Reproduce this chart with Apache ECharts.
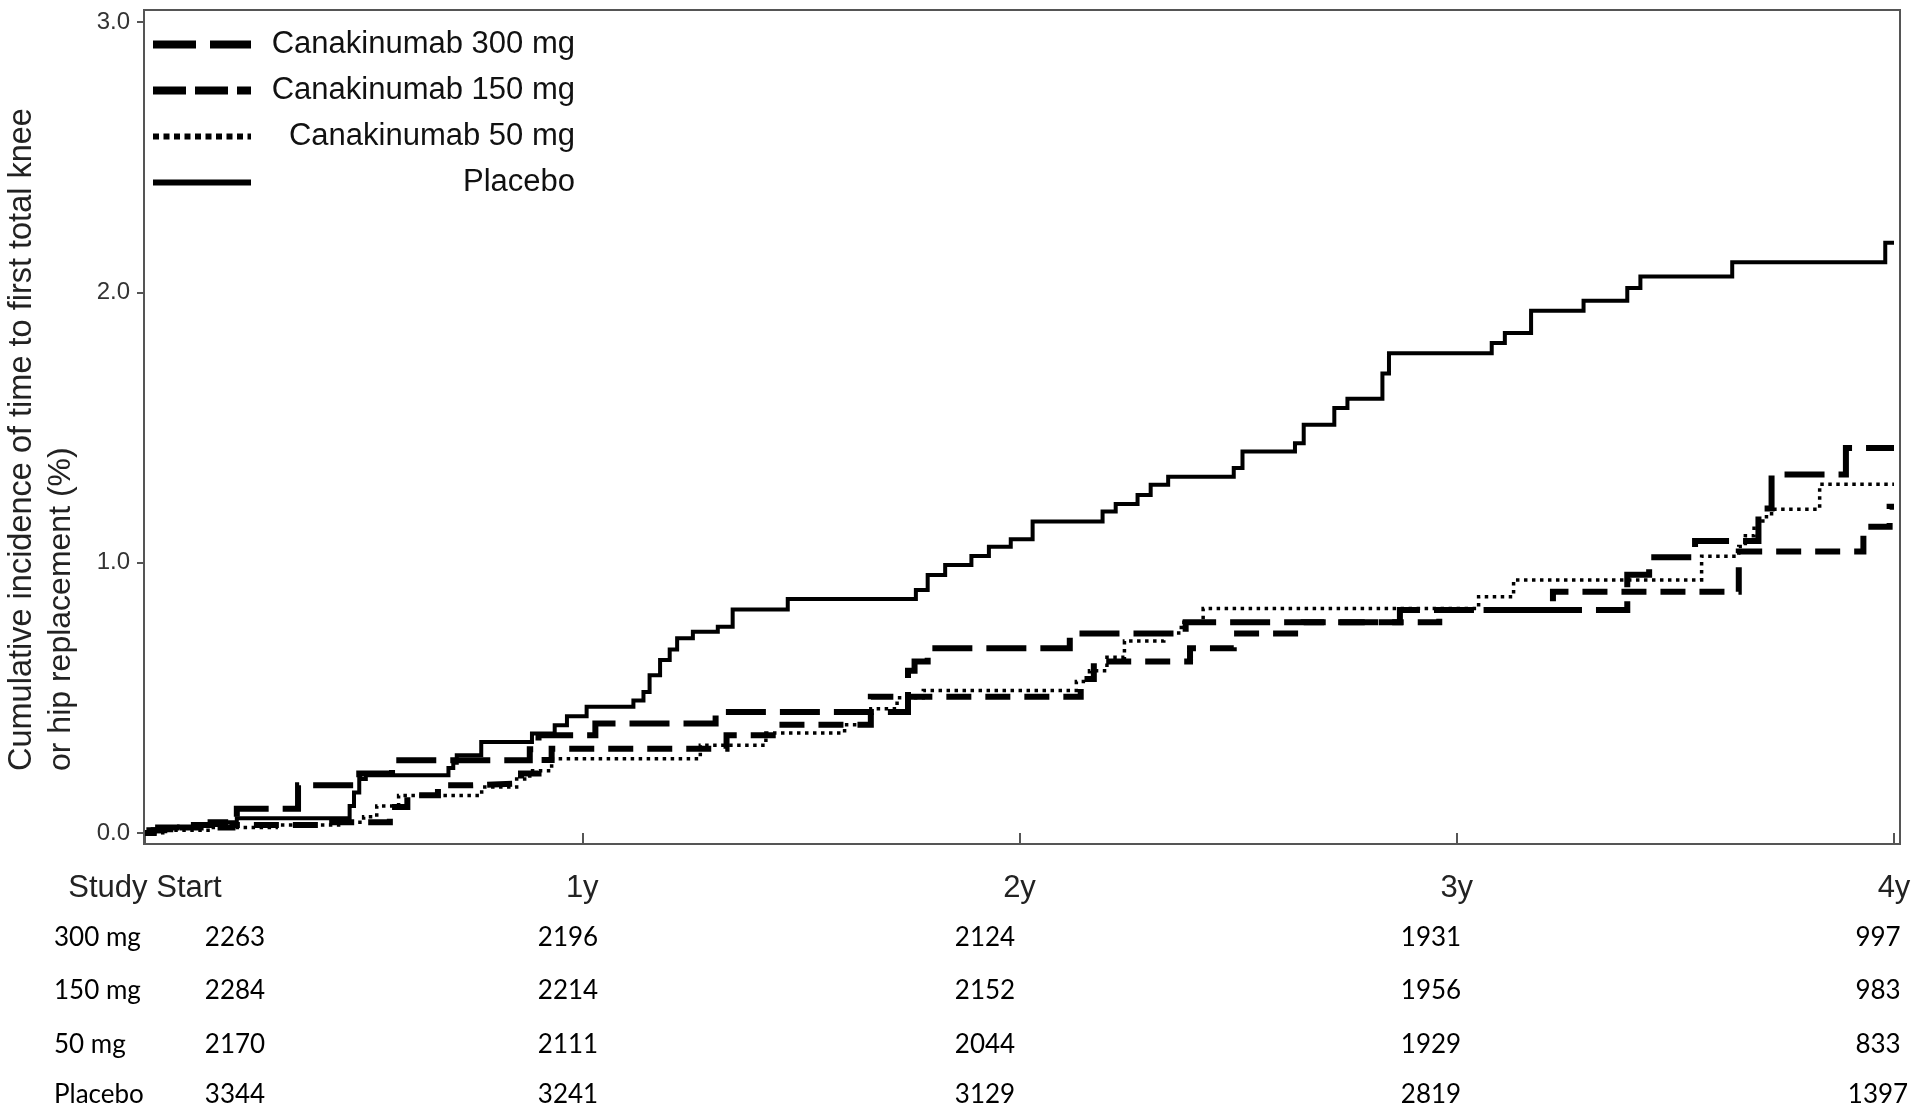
<!DOCTYPE html>
<html>
<head>
<meta charset="utf-8">
<script src="https://cdn.jsdelivr.net/npm/echarts@6/dist/echarts.min.js"></script>
<style>
  html, body { margin: 0; padding: 0; background: #fff; }
  #main { width: 1920px; height: 1110px; }
</style>
</head>
<body>
<div id="main"></div>
<script>
// x labels at 0..4 years
const timeTicks = ["Study Start", "1y", "2y", "3y", "4y"];
const seriesNames = ["Canakinumab 300 mg", "Canakinumab 150 mg", "Canakinumab 50 mg", "Placebo"];

// [years, cumulative incidence %] - step points
const cana300 = [
  [0, 0], [0.01, 0.01], [0.03, 0.02], [0.1, 0.03], [0.15, 0.04], [0.21, 0.09], [0.35, 0.177],
  [0.49, 0.22], [0.565, 0.269], [0.88, 0.31], [0.9, 0.362], [1.03, 0.405], [1.305, 0.448],
  [1.745, 0.6], [1.76, 0.634], [1.79, 0.683], [2.115, 0.738], [2.38, 0.78], [2.87, 0.825],
  [3.39, 0.955], [3.44, 1.02], [3.545, 1.08], [3.69, 1.2], [3.72, 1.326], [3.89, 1.424], [4.0, 1.424]
];
const cana150 = [
  [0, 0], [0.02, 0.01], [0.08, 0.02], [0.2, 0.03], [0.4, 0.04], [0.56, 0.096], [0.6, 0.14],
  [0.67, 0.177], [0.75, 0.183], [0.86, 0.22], [0.9, 0.27], [0.93, 0.312], [1.33, 0.362],
  [1.45, 0.4], [1.66, 0.504], [2.14, 0.57], [2.17, 0.634], [2.39, 0.683], [2.49, 0.738],
  [2.65, 0.78], [2.96, 0.825], [3.22, 0.892], [3.645, 1.041], [3.93, 1.133], [3.99, 1.207], [4.0, 1.207]
];
const cana50 = [
  [0, 0], [0.05, 0.01], [0.15, 0.02], [0.3, 0.03], [0.45, 0.04], [0.5, 0.06], [0.53, 0.1],
  [0.58, 0.139], [0.77, 0.17], [0.85, 0.2], [0.88, 0.23], [0.93, 0.275], [1.27, 0.325],
  [1.42, 0.37], [1.6, 0.4], [1.66, 0.46], [1.72, 0.5], [1.78, 0.527], [2.13, 0.56], [2.16, 0.6],
  [2.2, 0.65], [2.24, 0.71], [2.33, 0.74], [2.37, 0.78], [2.42, 0.83], [3.05, 0.874], [3.13, 0.936],
  [3.56, 1.024], [3.645, 1.06], [3.66, 1.1], [3.68, 1.14], [3.7, 1.17], [3.72, 1.198], [3.83, 1.29], [4.0, 1.29]
];
const placebo = [
  [0, 0], [0.02, 0.01], [0.06, 0.02], [0.12, 0.03], [0.17, 0.04], [0.21, 0.055], [0.468, 0.1],
  [0.478, 0.15], [0.49, 0.2], [0.505, 0.214], [0.694, 0.24], [0.705, 0.26], [0.713, 0.288],
  [0.769, 0.337], [0.885, 0.368], [0.937, 0.399], [0.965, 0.432], [1.01, 0.467], [1.117, 0.49],
  [1.14, 0.522], [1.154, 0.584], [1.178, 0.64], [1.2, 0.679], [1.217, 0.72], [1.253, 0.744],
  [1.31, 0.763], [1.344, 0.827], [1.47, 0.866], [1.763, 0.899], [1.79, 0.954], [1.83, 0.991],
  [1.89, 1.025], [1.93, 1.059], [1.98, 1.087], [2.03, 1.152], [2.19, 1.189], [2.22, 1.217],
  [2.27, 1.25], [2.3, 1.288], [2.34, 1.318], [2.49, 1.35], [2.51, 1.411], [2.63, 1.442],
  [2.65, 1.51], [2.72, 1.572], [2.75, 1.606], [2.83, 1.7], [2.845, 1.775], [3.08, 1.813],
  [3.11, 1.85], [3.17, 1.932], [3.29, 1.969], [3.39, 2.016], [3.42, 2.059], [3.63, 2.111],
  [3.98, 2.183], [4.0, 2.183]
];

// numbers at risk
const riskGroups = ["300 mg", "150 mg", "50 mg", "Placebo"];
const risk300 = [2263, 2196, 2124, 1931, 997];
const risk150 = [2284, 2214, 2152, 1956, 983];
const risk50 = [2170, 2111, 2044, 1929, 833];
const riskPlacebo = [3344, 3241, 3129, 2819, 1397];

const FONT = '"Liberation Sans", Arial, sans-serif';
const TABLE_FONT = 'Lato, "Open Sans", sans-serif';

const dashes = [[40, 14], [25, 14], [3.5, 4.5], "solid"];
const widths = [6, 6, 3.5, 4];
const legendDashes = [[43, 14], [33, 9], [6, 4.5], "solid"];
const legendWidths = [8, 8, 6, 6];

const chart = echarts.init(document.getElementById("main"), null, { renderer: "canvas" });

// risk table as plain text below the axis
const riskRows = [risk300, risk150, risk50, riskPlacebo];
const colX = [235, 568, 985, 1431, 1878];
const rowY = [938, 991, 1045, 1095];
const tableGraphics = [];
riskRows.forEach((row, i) => {
  tableGraphics.push({
    type: "text", x: 54, y: rowY[i], silent: true,
    style: { text: riskGroups[i], fontFamily: TABLE_FONT, fontSize: 26, fill: "#000", align: "left", verticalAlign: "middle" }
  });
  row.forEach((n, j) => {
    tableGraphics.push({
      type: "text", x: colX[j], y: rowY[i], silent: true,
      style: { text: String(n), fontFamily: TABLE_FONT, fontSize: 26, fill: "#000", align: "center", verticalAlign: "middle" }
    });
  });
});

const option = {
  animation: false,
  backgroundColor: "#fff",
  grid: { left: 145, right: 26, top: 22, bottom: 277 },
  legend: {
    orient: "vertical",
    left: 144,
    top: 24,
    itemWidth: 98,
    itemHeight: 14,
    itemGap: 15,
    selectedMode: false,
    itemStyle: { opacity: 0, color: "rgba(0,0,0,0)", borderWidth: 0 },
    data: seriesNames.map((n, i) => ({
      name: n,
      lineStyle: { width: legendWidths[i], type: legendDashes[i], color: "#000", opacity: 1 }
    })),
    formatter: name => "{t|" + name + "}",
    textStyle: {
      rich: {
        t: { fontFamily: FONT, fontSize: 31, lineHeight: 36, width: 319, align: "right", color: "#111" }
      }
    }
  },
  xAxis: {
    type: "value",
    min: 0,
    max: 4,
    interval: 1,
    offset: 11,
    axisLine: { show: false },
    axisTick: { show: true, length: 11, lineStyle: { color: "#555", width: 2 } },
    axisLabel: {
      formatter: v => timeTicks[v] || "",
      fontFamily: FONT, fontSize: 31, color: "#222", margin: 29
    },
    splitLine: { show: false }
  },
  yAxis: {
    type: "value",
    min: 0,
    max: 3,
    interval: 1,
    offset: 1,
    axisLine: { show: false },
    axisTick: { show: true, length: 8, lineStyle: { color: "#555", width: 2 } },
    axisLabel: {
      formatter: v => v.toFixed(1),
      fontFamily: FONT, fontSize: 24, color: "#333", margin: 14
    },
    splitLine: { show: false }
  },
  graphic: [
    {
      type: "rect", silent: true, z: 0,
      shape: { x: 144, y: 10, width: 1756, height: 834 },
      style: { fill: "none", stroke: "#555", lineWidth: 2 }
    },
    {
      type: "text", x: 22, y: 771, rotation: Math.PI / 2, silent: true,
      style: { text: "Cumulative incidence of time to first total knee", fontFamily: FONT, fontSize: 32.5, fill: "#222", align: "left", verticalAlign: "middle" }
    },
    {
      type: "text", x: 61, y: 771, rotation: Math.PI / 2, silent: true,
      style: { text: "or hip replacement (%)", fontFamily: FONT, fontSize: 32, fill: "#222", align: "left", verticalAlign: "middle" }
    }
  ].concat(tableGraphics),
  series: [cana300, cana150, cana50, placebo].map((d, i) => ({
    name: seriesNames[i],
    type: "line",
    step: "end",
    data: d,
    symbol: "none",
    silent: true,
    itemStyle: { color: "#000" },
    lineStyle: { color: "#000", width: widths[i], type: dashes[i], cap: "butt", join: "miter" }
  }))
};

chart.setOption(option);
window.addEventListener("resize", () => chart.resize());
</script>
</body>
</html>
